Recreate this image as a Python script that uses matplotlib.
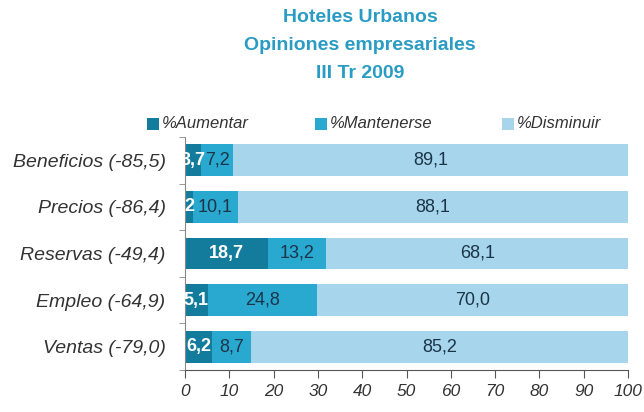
import matplotlib.pyplot as plt
import numpy as np
from matplotlib.patches import Rectangle

# datos
categorias = ["Beneficios (-85,5)", "Precios (-86,4)", "Reservas (-49,4)",
              "Empleo (-64,9)", "Ventas (-79,0)"]
aumentar = [3.7, 1.8, 18.7, 5.1, 6.2]
mantenerse = [7.2, 10.1, 13.2, 24.8, 8.7]
disminuir = [89.1, 88.1, 68.1, 70.0, 85.2]
etiq_aumentar = ["3,7", "2", "18,7", "5,1", "6,2"]
series = ["%Aumentar", "%Mantenerse", "%Disminuir"]
ticks_x = [0, 10, 20, 30, 40, 50, 60, 70, 80, 90, 100]

colores = ["#137c9d", "#2aa9d0", "#a7d5eb"]
azul_titulo = "#2a9cc4"
texto_osc = "#1b3448"

plt.rcParams['font.family'] = ['Liberation Sans', 'DejaVu Sans']

W, H = 644, 412
fig = plt.figure(figsize=(6.44, 4.12), dpi=100)
ax = fig.add_axes([185 / W, 42 / H, 443 / W, 233 / H])

y = np.arange(len(categorias))
alto = 0.68
ax.barh(y, aumentar, height=alto, color=colores[0])
ax.barh(y, mantenerse, left=aumentar, height=alto, color=colores[1])
izq3 = np.array(aumentar) + np.array(mantenerse)
ax.barh(y, disminuir, left=izq3, height=alto, color=colores[2])

# etiquetas de valores
for i in range(len(categorias)):
    ax.text(aumentar[i] / 2, y[i], etiq_aumentar[i], ha='center', va='center',
            fontsize=13, color='white', fontweight='bold', clip_on=True)
    ax.text(aumentar[i] + mantenerse[i] / 2, y[i], f"{mantenerse[i]:.1f}".replace('.', ','),
            ha='center', va='center', fontsize=13, color=texto_osc)
    ax.text(izq3[i] + disminuir[i] / 2, y[i], f"{disminuir[i]:.1f}".replace('.', ','),
            ha='center', va='center', fontsize=13, color=texto_osc)

ax.set_xlim(0, 100)
ax.set_ylim(len(categorias) - 0.5, -0.5)
ax.set_yticks(y)
ax.set_yticklabels(categorias, fontsize=14, style='italic', color='#333333')
ax.set_yticks(np.arange(-0.5, len(categorias), 1), minor=True)
ax.tick_params(axis='y', which='major', length=0, pad=14)
ax.tick_params(axis='y', which='minor', length=4, color='#888888')
ax.set_xticks(ticks_x)
ax.set_xticklabels([str(v) for v in ticks_x], fontsize=12.5, style='italic', color='#333333')
ax.tick_params(axis='x', length=6, color='#555555', pad=4)

for s in ['top', 'right']:
    ax.spines[s].set_visible(False)
ax.spines['left'].set_color('#888888')
ax.spines['bottom'].set_color('#555555')

# titulo
titulo = ["Hoteles Urbanos", "Opiniones empresariales", "III Tr 2009"]
for k, linea in enumerate(titulo):
    fig.text(360 / W, 1 - (18 + 28 * k) / H, linea, ha='center', va='center',
             fontsize=14, fontweight='bold', color=azul_titulo)

# leyenda
pos_ley = [147, 315, 502]
for c, nombre, px in zip(colores, series, pos_ley):
    fig.add_artist(Rectangle((px / W, 1 - 130 / H), 12 / W, 12 / H,
                             transform=fig.transFigure, facecolor=c, edgecolor='none'))
    fig.text((px + 15) / W, 1 - 124 / H, nombre, ha='left', va='center',
             fontsize=12, style='italic', color='#333333')

fig.savefig("out.png", dpi=100)
